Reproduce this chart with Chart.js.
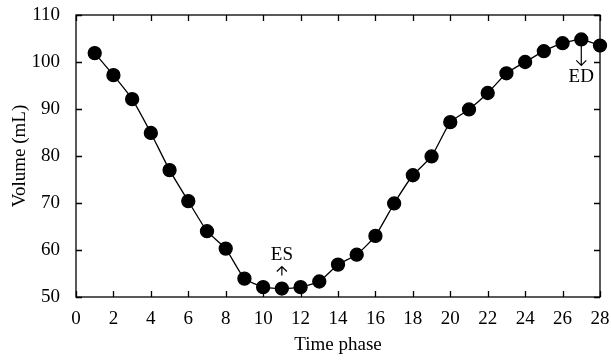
<!DOCTYPE html>
<html>
<head>
<meta charset="utf-8">
<script src="https://cdn.jsdelivr.net/npm/chart.js@4"></script>
<style>
  html, body { margin: 0; padding: 0; background: #fff; }
  #wrap { width: 611px; height: 360px; }
</style>
</head>
<body>
<div id="wrap"><canvas id="volumeChart"></canvas></div>
<script>
// time phases and volumes
const phases = [1, 2, 3, 4, 5, 6, 7, 8, 9, 10, 11, 12, 13, 14, 15, 16, 17, 18, 19, 20, 21, 22, 23, 24, 25, 26, 27, 28];
const volumes = [101.9, 97.2, 92.1, 84.9, 77.0, 70.4, 64.0, 60.3, 53.9, 52.1, 51.8, 52.1, 53.3, 56.9, 59.0, 63.0, 69.9, 75.9, 79.9, 87.2, 89.9, 93.4, 97.6, 100.0, 102.3, 104.0, 104.8, 103.5];
const xTicks = [0, 2, 4, 6, 8, 10, 12, 14, 16, 18, 20, 22, 24, 26, 28];
const yTicks = [50, 60, 70, 80, 90, 100, 110];
// markers: ES (end systole) and ED (end diastole)
const markers = [
    { label: 'ES', phase: 11, dir: 'up' },
    { label: 'ED', phase: 27, dir: 'down' }
];

const serif = '"Liberation Serif", "DejaVu Serif", serif';

// draws the box frame, inward ticks and ES / ED arrows
const framePlugin = {
    id: 'frame',
    afterDatasetsDraw(chart) {
        const { ctx, chartArea: a, scales } = chart;
        const xs = scales.x, ys = scales.y;
        const tl = 6;
        ctx.save();
        ctx.strokeStyle = '#000';
        ctx.lineWidth = 1.3;
        ctx.strokeRect(a.left, a.top, a.right - a.left, a.bottom - a.top);
        ctx.beginPath();
        xTicks.forEach(v => {
            const px = Math.round(xs.getPixelForValue(v)) + 0.5;
            ctx.moveTo(px, a.bottom); ctx.lineTo(px, a.bottom - tl);
            ctx.moveTo(px, a.top); ctx.lineTo(px, a.top + tl);
        });
        yTicks.forEach(v => {
            const py = Math.round(ys.getPixelForValue(v)) + 0.5;
            ctx.moveTo(a.left, py); ctx.lineTo(a.left + tl, py);
            ctx.moveTo(a.right, py); ctx.lineTo(a.right - tl, py);
        });
        ctx.stroke();

        ctx.font = '19px ' + serif;
        ctx.fillStyle = '#000';
        ctx.textAlign = 'center';
        ctx.lineWidth = 1.2;
        markers.forEach(m => {
            const idx = phases.indexOf(m.phase);
            const px = xs.getPixelForValue(m.phase);
            const py = ys.getPixelForValue(volumes[idx]);
            ctx.beginPath();
            if (m.dir === 'up') {
                const tip = py - 22, tail = py - 13;
                ctx.moveTo(px, tail); ctx.lineTo(px, tip);
                ctx.moveTo(px - 5, tip + 5); ctx.lineTo(px, tip); ctx.lineTo(px + 5, tip + 5);
                ctx.stroke();
                ctx.textBaseline = 'bottom';
                ctx.fillText(m.label, px, tip - 2);
            } else {
                const tail = py + 4, tip = py + 26;
                ctx.moveTo(px, tail); ctx.lineTo(px, tip);
                ctx.moveTo(px - 5, tip - 5); ctx.lineTo(px, tip); ctx.lineTo(px + 5, tip - 5);
                ctx.stroke();
                ctx.textBaseline = 'top';
                ctx.fillText(m.label, px, tip + 2);
            }
        });
        ctx.restore();
    }
};

const canvasElement = document.getElementById('volumeChart');
const ctx = canvasElement.getContext('2d');

new Chart(ctx, {
    type: 'line',
    data: {
        datasets: [{
            data: phases.map((p, i) => ({ x: p, y: volumes[i] })),
            borderColor: '#000',
            borderWidth: 1.3,
            backgroundColor: '#000',
            pointBackgroundColor: '#000',
            pointBorderColor: '#000',
            pointRadius: 6.5,
            tension: 0.15,
            clip: false,
            fill: false
        }]
    },
    options: {
        responsive: true,
        maintainAspectRatio: false,
        animation: false,
        layout: { padding: { top: 15, right: 11, left: 0, bottom: 0 } },
        plugins: { legend: { display: false }, tooltip: { enabled: false } },
        scales: {
            x: {
                type: 'linear',
                min: 0, max: 28,
                afterBuildTicks: s => { s.ticks = xTicks.map(v => ({ value: v })); },
                afterFit: s => { s.height = 63; s.paddingLeft = 0; s.paddingRight = 0; },
                grid: { display: false },
                border: { display: false },
                ticks: { color: '#000', font: { family: serif, size: 19 }, padding: 3, maxRotation: 0 },
                title: { display: true, text: 'Time phase', color: '#000', font: { family: serif, size: 19 }, padding: { top: 4 } }
            },
            y: {
                min: 50, max: 110,
                afterBuildTicks: s => { s.ticks = yTicks.map(v => ({ value: v })); },
                afterFit: s => { s.width = 76; s.paddingTop = 0; s.paddingBottom = 0; },
                grid: { display: false },
                border: { display: false },
                ticks: { color: '#000', font: { family: serif, size: 19 }, padding: 8 },
                title: { display: true, text: 'Volume (mL)', color: '#000', font: { family: serif, size: 19 }, padding: { top: 9, bottom: 2 } }
            }
        }
    },
    plugins: [framePlugin]
});
</script>
</body>
</html>
